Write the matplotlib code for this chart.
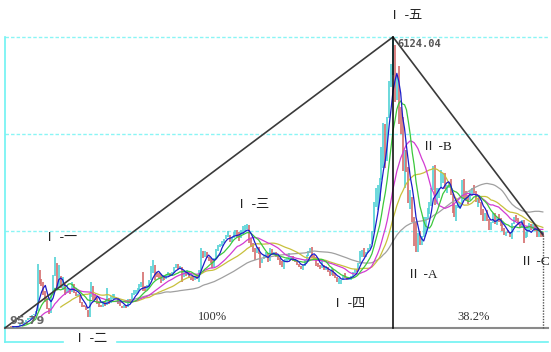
import numpy as np
import pandas as pd
import matplotlib
matplotlib.use("Agg")
import matplotlib.pyplot as plt

plt.rcParams['font.family'] = ['Noto Sans CJK SC', 'DejaVu Sans']

# ---------- monthly data, Dec 1990 .. Apr 2014 ----------
first_open = 96.05
close = [127.61,
    129.97, 133.0, 120.2, 113.9, 114.8, 137.6, 145.6, 180.9, 180.2, 218.6, 259.6, 292.8,
    313, 364, 383, 445, 1266, 1068, 1028, 820, 708, 500, 400, 780,
    1180, 1430, 940, 1160, 940, 1008, 860, 875, 880, 860, 1000, 834,
    770, 780, 630, 560, 550, 470, 333, 750, 950, 720, 700, 648,
    560, 550, 650, 580, 700, 630, 700, 720, 730, 715, 620, 555,
    537, 545, 530, 665, 640, 800, 840, 850, 900, 970, 980, 917,
    915, 935, 1080, 1340, 1380, 1250, 1200, 1180, 1100, 1150, 1130, 1194,
    1220, 1205, 1240, 1340, 1410, 1340, 1350, 1150, 1230, 1215, 1250, 1147,
    1135, 1090, 1160, 1130, 1280, 1690, 1600, 1650, 1560, 1530, 1500, 1367,
    1535, 1715, 1800, 1835, 1895, 1930, 2020, 2020, 1910, 1960, 2070, 2073,
    2065, 1960, 2110, 2120, 2215, 2218, 1920, 1830, 1720, 1690, 1750, 1645,
    1490, 1525, 1600, 1650, 1510, 1730, 1650, 1655, 1580, 1525, 1470, 1357,
    1500, 1510, 1510, 1520, 1577, 1487, 1476, 1421, 1367, 1348, 1397, 1497,
    1590, 1675, 1742, 1595, 1555, 1400, 1386, 1342, 1396, 1320, 1340, 1266,
    1191, 1306, 1181, 1159, 1060, 1080, 1083, 1162, 1155, 1092, 1099, 1161,
    1258, 1299, 1298, 1440, 1641, 1672, 1612, 1658, 1752, 1837, 2099, 2675,
    2786, 2881, 3183, 3841, 4109, 3820, 4471, 5218, 5552, 5954, 4871, 5262,
    4383, 4348, 3472, 3693, 3433, 2736, 2775, 2397, 2293, 1729, 1871, 1821,
    1991, 2082, 2374, 2477, 2633, 2959, 3412, 2667, 2779, 2996, 3195, 3277,
    2989, 3052, 3110, 2871, 2592, 2398, 2638, 2639, 2656, 2979, 2820, 2808,
    2790, 2905, 2928, 2911, 2743, 2762, 2701, 2567, 2359, 2468, 2333, 2199,
    2292, 2428, 2262, 2396, 2373, 2225, 2103, 2047, 2086, 2069, 1980, 2269,
    2385, 2365, 2237, 2177, 2301, 1979, 1994, 2098, 2175, 2141, 2220, 2116,
    2033, 2056, 2033, 2026]
high = [127.61,
    135, 135, 134, 121, 115, 138, 146, 181, 192, 219, 260, 293,
    313, 364, 383, 445, 1429, 1300, 1120, 1050, 860, 720, 520, 800,
    1200, 1558, 1440, 1392, 1170, 1150, 1010, 930, 930, 900, 1040, 1010,
    840, 800, 780, 640, 580, 560, 470, 800, 1052, 960, 790, 720,
    650, 580, 660, 660, 926, 720, 760, 800, 790, 740, 720, 640,
    560, 580, 570, 690, 700, 820, 890, 880, 920, 1000, 1050, 1258,
    960, 980, 1090, 1380, 1510, 1400, 1260, 1230, 1220, 1190, 1170, 1200,
    1250, 1230, 1250, 1350, 1420, 1422, 1390, 1350, 1260, 1260, 1300, 1260,
    1160, 1150, 1180, 1190, 1290, 1756, 1700, 1690, 1680, 1570, 1540, 1500,
    1540, 1730, 1810, 1840, 1900, 1940, 2030, 2115, 2030, 1990, 2080, 2125,
    2130, 2080, 2120, 2200, 2230, 2245, 2230, 1960, 1850, 1760, 1780, 1780,
    1650, 1530, 1610, 1680, 1655, 1748, 1730, 1680, 1670, 1590, 1540, 1480,
    1510, 1530, 1540, 1649, 1590, 1580, 1520, 1480, 1430, 1380, 1410, 1500,
    1600, 1700, 1760, 1783, 1600, 1560, 1440, 1400, 1510, 1400, 1390, 1360,
    1270, 1330, 1310, 1240, 1160, 1140, 1100, 1170, 1230, 1160, 1110, 1180,
    1260, 1320, 1310, 1445, 1700, 1720, 1760, 1660, 1760, 1840, 2100, 2700,
    2994, 3049, 3205, 3841, 4335, 4312, 4471, 5220, 5560, 6124.04, 5955, 5330,
    5522, 4673, 4472, 3786, 3786, 3433, 2952, 2800, 2333, 2300, 2070, 2100,
    2000, 2402, 2403, 2580, 2700, 2989, 3454, 3478, 3000, 3000, 3361, 3300,
    3307, 3060, 3130, 3181, 2870, 2660, 2650, 2700, 2680, 3160, 3186, 2940,
    2855, 2930, 2990, 3067, 2940, 2780, 2830, 2690, 2570, 2480, 2536, 2350,
    2300, 2478, 2476, 2400, 2453, 2370, 2240, 2175, 2090, 2120, 2080, 2275,
    2390, 2444, 2380, 2260, 2335, 2330, 2090, 2210, 2270, 2240, 2240, 2230,
    2120, 2110, 2080, 2080]
low = [95.79,
    127, 129, 120, 113, 105, 114, 137, 145, 175, 180, 218, 259,
    292, 312, 360, 383, 445, 1000, 960, 780, 640, 480, 386, 400,
    780, 1170, 920, 930, 920, 880, 780, 820, 830, 800, 850, 830,
    750, 760, 620, 540, 530, 460, 326, 330, 730, 680, 670, 600,
    540, 525, 540, 560, 570, 600, 610, 690, 700, 700, 600, 550,
    512, 520, 520, 530, 620, 630, 780, 810, 830, 880, 950, 855,
    870, 880, 920, 1080, 1230, 1100, 1150, 1140, 1030, 1070, 1100, 1110,
    1170, 1180, 1180, 1230, 1330, 1320, 1310, 1043, 1150, 1170, 1200, 1140,
    1100, 1065, 1080, 1120, 1050, 1270, 1550, 1560, 1550, 1490, 1450, 1340,
    1360, 1530, 1690, 1770, 1800, 1850, 1930, 1990, 1870, 1880, 1950, 2010,
    1980, 1890, 1950, 2040, 2110, 2150, 1850, 1780, 1680, 1514, 1640, 1630,
    1339, 1440, 1520, 1570, 1460, 1490, 1620, 1600, 1560, 1510, 1400, 1350,
    1311, 1480, 1480, 1500, 1500, 1480, 1460, 1400, 1350, 1310, 1307, 1380,
    1490, 1590, 1650, 1540, 1500, 1390, 1350, 1310, 1330, 1300, 1300, 1259,
    1176, 1190, 1170, 1130, 1050, 998, 1000, 1080, 1130, 1080, 1080, 1100,
    1160, 1240, 1250, 1290, 1420, 1560, 1560, 1560, 1650, 1740, 1830, 2090,
    2604, 2541, 2720, 3170, 3400, 3404, 3563, 4450, 5080, 5330, 4778, 4813,
    4330, 4123, 3357, 2990, 3333, 2693, 2566, 2284, 1802, 1664, 1678, 1814,
    1844, 2037, 2037, 2350, 2460, 2650, 2950, 2639, 2712, 2800, 2990, 3100,
    2981, 2890, 3000, 2860, 2481, 2390, 2319, 2580, 2570, 2660, 2774, 2720,
    2660, 2750, 2860, 2900, 2700, 2610, 2690, 2440, 2307, 2307, 2320, 2134,
    2132, 2280, 2242, 2220, 2300, 2210, 2100, 2030, 1999, 2060, 1980, 1949,
    2260, 2320, 2230, 2160, 2180, 1849, 1960, 1990, 2090, 2120, 2140, 2110,
    1990, 1985, 1974, 1990]

ma_windows = [5, 10, 20, 30, 60]
ma_colors = ['#1c1cc8', '#3cc83c', '#d23cd2', '#c8c03c', '#a0a0a0']

wave_labels = ['Ⅰ -一', 'Ⅰ -二', 'Ⅰ -三', 'Ⅰ -四', 'Ⅰ -五', 'Ⅱ -A', 'Ⅱ -B', 'Ⅱ -C']
low_text = '95.79'
peak_text = '6124.04'
ratio_texts = ['100%', '38.2%']

df = pd.DataFrame({'close': close, 'high': high, 'low': low})
df['open'] = df['close'].shift(1).fillna(first_open)
idx = np.arange(len(df))
peak_i = int(df['high'].idxmax())
low_i = int(df['low'].idxmin())
last_i = len(df) - 1
p_low = df['low'].min()
p_peak = df['high'].max()

# ---------- pixel layout ----------
W, H = 551, 352
x0, x_peak_px = 5, 393
y_low_px, y_peak_px = 328, 37
kx = (x_peak_px - x0) / (peak_i - low_i)
ky = (y_low_px - y_peak_px) / (p_peak - p_low)

def px_x(px):
    return (px - x0) / kx

def px_y(py):
    return p_low + (y_low_px - py) / ky

fig = plt.figure(figsize=(W / 100, H / 100), dpi=100)
ax = fig.add_axes([0, 0, 1, 1])
ax.set_xlim(px_x(0), px_x(W))
ax.set_ylim(px_y(H), px_y(0))
ax.axis('off')

# grid + frame
grid_levels = [p_low + (p_peak - p_low) * f for f in (1 / 3, 2 / 3, 1.0)]
for g in grid_levels:
    ax.plot([px_x(5), px_x(548)], [g, g], color='#8af5f5', lw=1,
            ls=(0, (2.5, 1.5)), zorder=1)
ax.plot([px_x(5), px_x(5)], [px_y(37), px_y(342)], color='#6ef2f2', lw=1.2, zorder=1)
ax.plot([px_x(5), px_x(63)], [px_y(342), px_y(342)], color='#6ef2f2', lw=1.2, zorder=1)
ax.plot([px_x(117), px_x(548)], [px_y(342), px_y(342)], color='#6ef2f2', lw=1.2, zorder=1)
ax.plot([px_x(5), px_x(548)], [p_low, p_low], color='#8a8a8a', lw=1.5, zorder=1)

# candles (thin bars)
up = df['close'] >= df['open']
bar_lo = np.minimum(df['low'], np.minimum(df['open'], df['close']))
bar_hi = np.maximum(df['high'], np.maximum(df['open'], df['close']))
ax.vlines(idx[up], bar_lo[up], bar_hi[up], color='#52d2d6', lw=1.2, zorder=2)
ax.vlines(idx[~up], bar_lo[~up], bar_hi[~up], color='#d46c6c', lw=1.2, zorder=2)

# moving averages
for w, c in zip(ma_windows[::-1], ma_colors[::-1]):
    ma = df['close'].rolling(w).mean()
    ax.plot(idx, ma, color=c, lw=0.9, zorder=3)

# wave lines
ax.plot([low_i, peak_i, last_i], [p_low, p_peak, df['close'].iloc[-1]],
        color='#3a3a3a', lw=1.2, zorder=4)
ax.plot([peak_i, peak_i], [p_peak, p_low], color='black', lw=1.1, zorder=4)
ax.plot([last_i, last_i], [df['close'].iloc[-1], p_low], color='#555555',
        lw=1.0, ls=(0, (1, 1)), zorder=4)

# labels
lab_pos = [(60, 238), (90, 339), (252, 205), (348, 304), (405, 16),
           (422, 275), (437, 147)]
serif = ['Liberation Serif', 'Noto Sans CJK SC']
for t, (px, py) in zip(wave_labels[:-1], lab_pos):
    ax.text(px_x(px), px_y(py), t, ha='center', va='center', fontsize=9.5,
            family=serif, color='#222222', zorder=5)
ax.text(px_x(550), px_y(262), wave_labels[-1], ha='right', va='center',
        fontsize=9.5, family=serif, color='#222222', zorder=5)
ax.text(px_x(212), px_y(317), ratio_texts[0], ha='center', va='center',
        fontsize=9, family=serif, color='#333333')
ax.text(px_x(474), px_y(317), ratio_texts[1], ha='center', va='center',
        fontsize=9, family=serif, color='#333333')
ax.text(px_x(397), px_y(44), peak_text, ha='left', va='center', fontsize=7.5,
        family='DejaVu Sans Mono', fontweight='bold', color='#555555', zorder=5)
ax.text(px_x(9), px_y(321), low_text, ha='left', va='center', fontsize=8,
        family='DejaVu Sans', fontweight='bold', color='#666666', zorder=5)

fig.savefig('out.png', dpi=100, facecolor='white')
